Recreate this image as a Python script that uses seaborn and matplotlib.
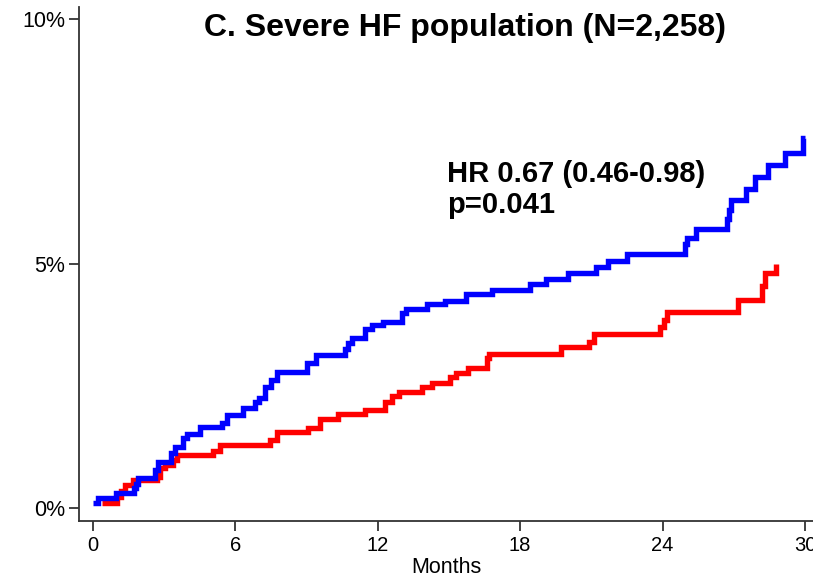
import numpy as np
import pandas as pd
import matplotlib
matplotlib.use("Agg")
import matplotlib.pyplot as plt
import seaborn as sns

# ---- data ----
blue_t = [0.0, 0.22, 0.97, 1.73, 1.8, 1.9, 2.6, 2.75, 3.3, 3.46, 3.8, 3.95, 4.5,
          5.42, 5.63, 6.33, 6.82, 7.0, 7.25, 7.5, 7.75, 9.0, 9.4, 10.6, 10.75, 10.9,
          11.46, 11.74, 12.2, 13.0, 13.2, 14.06, 14.83, 15.7, 16.8, 18.4, 19.1, 20.0,
          21.2, 21.7, 22.5, 24.95, 25.05, 25.4, 26.7, 26.8, 26.9, 27.5, 27.9, 28.45,
          29.15, 29.9, 30.0]
blue_pct = [0.11, 0.20, 0.30, 0.40, 0.50, 0.62, 0.78, 0.95, 1.12, 1.25, 1.43, 1.51, 1.66,
            1.74, 1.90, 2.04, 2.17, 2.26, 2.48, 2.62, 2.79, 2.96, 3.13, 3.25, 3.38, 3.47,
            3.66, 3.74, 3.81, 3.98, 4.08, 4.17, 4.24, 4.37, 4.47, 4.58, 4.69, 4.80,
            4.94, 5.06, 5.19, 5.41, 5.52, 5.70, 5.92, 6.09, 6.31, 6.52, 6.78, 7.01,
            7.27, 7.56, 7.56]

red_t = [0.36, 1.0, 1.2, 1.35, 1.7, 2.68, 2.82, 3.03, 3.38, 3.52, 5.07, 5.35, 7.46,
         7.74, 9.06, 9.57, 10.34, 11.46, 12.3, 12.6, 12.9, 13.85, 14.27, 15.04, 15.3,
         15.8, 16.6, 16.7, 19.7, 20.9, 21.1, 23.9, 24.05, 24.2, 27.2, 28.2, 28.3, 28.8]
red_pct = [0.10, 0.22, 0.35, 0.47, 0.57, 0.64, 0.82, 0.88, 0.98, 1.08, 1.17, 1.29, 1.39,
           1.56, 1.64, 1.83, 1.92, 2.00, 2.17, 2.29, 2.38, 2.47, 2.56, 2.67, 2.77,
           2.87, 3.06, 3.16, 3.29, 3.40, 3.55, 3.71, 3.85, 4.01, 4.25, 4.55, 4.80, 5.00]

x_ticks = [0, 6, 12, 18, 24, 30]
y_ticks = [0, 5, 10]
y_tick_labels = ["0%", "5%", "10%"]
title = "C. Severe HF population (N=2,258)"
annotation_lines = ["HR 0.67 (0.46-0.98)", "p=0.041"]
x_label = "Months"

# ---- plot ----
sns.set_style("ticks")
plt.rcParams["font.family"] = ["Liberation Sans", "DejaVu Sans"]
plt.rcParams["text.color"] = "black"

fig = plt.figure(figsize=(8.13, 5.79), dpi=100)
ax = fig.add_axes([79 / 813, 58 / 579, 734 / 813, (521 - 7) / 579])

blue_df = pd.DataFrame({"t": blue_t, "pct": blue_pct})
red_df = pd.DataFrame({"t": red_t, "pct": red_pct})
sns.lineplot(data=blue_df, x="t", y="pct", ax=ax, color="#0000ff", lw=3.9,
             drawstyle="steps-post", estimator=None, sort=False,
             solid_capstyle="butt", solid_joinstyle="miter")
sns.lineplot(data=red_df, x="t", y="pct", ax=ax, color="#ff0000", lw=3.9,
             drawstyle="steps-post", estimator=None, sort=False,
             solid_capstyle="butt", solid_joinstyle="miter")
ax.lines[0].set_zorder(3)

ax.set_xlim(-0.59, 30.34)
ax.set_ylim(-0.266, 10.25)
ax.set_xticks(x_ticks)
ax.set_xticklabels([str(v) for v in x_ticks], fontsize=14.5)
ax.set_yticks(y_ticks)
ax.set_yticklabels(y_tick_labels, fontsize=15.5)
ax.set_xlabel(x_label, fontsize=15.5, labelpad=1, color="black")
ax.set_ylabel("")

for side in ["top", "right"]:
    ax.spines[side].set_visible(False)
for side in ["left", "bottom"]:
    ax.spines[side].set_color("#333333")
    ax.spines[side].set_linewidth(1.3)
ax.tick_params(axis="both", direction="out", length=7, width=1.3, color="#333333",
               labelcolor="black", pad=3)
ax.tick_params(axis="x", pad=4)

ax.text(15.68, 9.83, title, ha="center", va="center", fontsize=23,
        fontweight="bold", color="black")
ax.text(14.92, 6.667, annotation_lines[0], ha="left", va="baseline", fontsize=21,
        fontweight="bold", color="black")
ax.text(14.92, 6.033, annotation_lines[1], ha="left", va="baseline", fontsize=21,
        fontweight="bold", color="black")

fig.savefig("out.png", dpi=100)
